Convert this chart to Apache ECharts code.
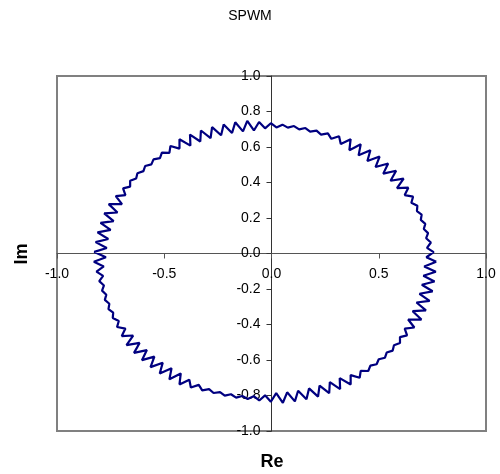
<!DOCTYPE html>
<html>
<head>
<meta charset="utf-8">
<style>
html,body{margin:0;padding:0;background:#fff;}
#chart{width:500px;height:474px;}
</style>
<script src="https://cdn.jsdelivr.net/npm/echarts@6/dist/echarts.min.js"></script>
</head>
<body>
<div id="chart"></div>
<script>
var reValues = [
 0.768, 0.722, 0.756, 0.725, 0.743, 0.721, 0.730, 0.710, 0.717, 0.696,
 0.700, 0.678, 0.680, 0.652, 0.660, 0.621, 0.638, 0.585, 0.616, 0.555,
 0.581, 0.521, 0.544, 0.485, 0.504, 0.447, 0.461, 0.406, 0.416, 0.363,
 0.369, 0.323, 0.315, 0.279, 0.263, 0.231, 0.210, 0.180, 0.158, 0.129,
 0.105, 0.076, 0.051, 0.023, -0.003, -0.030, -0.058, -0.082, -0.113, -0.133,
 -0.169, -0.184, -0.223, -0.235, -0.277, -0.284, -0.329, -0.332, -0.380, -0.378,
 -0.429, -0.429, -0.471, -0.476, -0.511, -0.520, -0.550, -0.560, -0.589, -0.597,
 -0.625, -0.631, -0.659, -0.659, -0.692, -0.681, -0.726, -0.697, -0.759, -0.718,
 -0.780, -0.736, -0.797, -0.750, -0.811, -0.761, -0.820, -0.768, -0.826, -0.772,
 -0.828, -0.782, -0.816, -0.785, -0.803, -0.781, -0.790, -0.770, -0.777, -0.756,
 -0.760, -0.738, -0.740, -0.712, -0.720, -0.681, -0.698, -0.645, -0.676, -0.615,
 -0.641, -0.581, -0.604, -0.546, -0.564, -0.507, -0.521, -0.466, -0.476, -0.423,
 -0.429, -0.383, -0.376, -0.339, -0.323, -0.291, -0.270, -0.240, -0.218, -0.189,
 -0.165, -0.136, -0.111, -0.083, -0.057, -0.030, -0.003, 0.022, 0.053, 0.073,
 0.109, 0.124, 0.163, 0.175, 0.217, 0.224, 0.269, 0.272, 0.320, 0.318,
 0.369, 0.369, 0.411, 0.416, 0.451, 0.461, 0.490, 0.500, 0.529, 0.537,
 0.565, 0.571, 0.599, 0.599, 0.632, 0.621, 0.666, 0.637, 0.699, 0.658,
 0.720, 0.676, 0.737, 0.690, 0.751, 0.701, 0.760, 0.708, 0.766, 0.712,
 0.768
];
// Imaginary part (Im) of the trajectory
var imValues = [
 -0.047, -0.021, 0.008, 0.032, 0.062, 0.086, 0.115, 0.138, 0.167, 0.189,
 0.219, 0.239, 0.269, 0.286, 0.320, 0.329, 0.371, 0.368, 0.422, 0.410,
 0.466, 0.450, 0.507, 0.487, 0.546, 0.521, 0.582, 0.553, 0.615, 0.582,
 0.644, 0.617, 0.661, 0.646, 0.677, 0.670, 0.692, 0.687, 0.707, 0.699,
 0.718, 0.709, 0.726, 0.710, 0.734, 0.705, 0.741, 0.693, 0.747, 0.688,
 0.739, 0.679, 0.727, 0.666, 0.712, 0.650, 0.693, 0.631, 0.670, 0.608,
 0.644, 0.591, 0.606, 0.567, 0.568, 0.537, 0.530, 0.502, 0.493, 0.464,
 0.452, 0.423, 0.410, 0.377, 0.367, 0.329, 0.323, 0.278, 0.278, 0.231,
 0.226, 0.182, 0.173, 0.133, 0.119, 0.082, 0.064, 0.031, 0.009, -0.021,
 -0.047, -0.073, -0.102, -0.126, -0.156, -0.180, -0.209, -0.232, -0.261, -0.283,
 -0.313, -0.333, -0.363, -0.380, -0.414, -0.423, -0.465, -0.462, -0.516, -0.504,
 -0.560, -0.544, -0.601, -0.581, -0.640, -0.615, -0.676, -0.647, -0.709, -0.676,
 -0.738, -0.711, -0.755, -0.740, -0.771, -0.764, -0.786, -0.781, -0.801, -0.793,
 -0.812, -0.803, -0.820, -0.804, -0.828, -0.799, -0.835, -0.787, -0.841, -0.782,
 -0.833, -0.773, -0.821, -0.760, -0.806, -0.744, -0.787, -0.725, -0.764, -0.702,
 -0.738, -0.685, -0.700, -0.661, -0.662, -0.632, -0.624, -0.596, -0.587, -0.558,
 -0.547, -0.517, -0.504, -0.471, -0.461, -0.423, -0.417, -0.372, -0.372, -0.325,
 -0.320, -0.276, -0.267, -0.227, -0.213, -0.176, -0.158, -0.125, -0.103, -0.073,
 -0.047
];
var xTicks = { min: -1, max: 1, interval: 0.5 };
var yTicks = { min: -1, max: 1, interval: 0.2 };
var chartTitle = 'SPWM';
var xName = 'Re';
var yName = 'Im';

var points = reValues.map(function (x, i) { return [x, imValues[i]]; });
var FONT = 'Liberation Sans, Arial, sans-serif';
function fmt(v) { return Math.abs(v) < 1e-9 ? '0.0' : v.toFixed(1); }

var GRID = { left: 57, right: 14, top: 76, bottom: 43 };
var W = 500, H = 474;
var plotW = W - GRID.left - GRID.right;
var plotH = H - GRID.top - GRID.bottom;
// the axes cross at the origin (0,0), i.e. the middle of the plot area
var xAxisOffset = -plotH * (0 - yTicks.min) / (yTicks.max - yTicks.min);
var yAxisOffset = -plotW * (0 - xTicks.min) / (xTicks.max - xTicks.min);

var chart = echarts.init(document.getElementById('chart'), null, { renderer: 'canvas' });
chart.setOption({
  animation: false,
  backgroundColor: '#fff',
  grid: {
    left: GRID.left, right: GRID.right, top: GRID.top, bottom: GRID.bottom,
    show: true, borderColor: '#808080', borderWidth: 2, backgroundColor: '#fff'
  },
  xAxis: {
    type: 'value', min: xTicks.min, max: xTicks.max, interval: xTicks.interval,
    position: 'bottom', offset: xAxisOffset,
    axisLine: { onZero: false, lineStyle: { color: '#555', width: 1 } },
    axisTick: { show: true, length: 5, lineStyle: { color: '#555' } },
    axisLabel: { formatter: fmt, color: '#000', fontSize: 14, fontFamily: FONT, margin: 14 },
    splitLine: { show: false }
  },
  yAxis: {
    type: 'value', min: yTicks.min, max: yTicks.max, interval: yTicks.interval,
    position: 'left', offset: yAxisOffset,
    axisLine: { onZero: false, lineStyle: { color: '#333', width: 1 } },
    axisTick: { show: true, length: 5, lineStyle: { color: '#333' } },
    axisLabel: { formatter: fmt, color: '#000', fontSize: 14, fontFamily: FONT, margin: 11 },
    splitLine: { show: false }
  },
  graphic: [
    { type: 'text', x: 250, y: 16, style: { text: chartTitle, font: '14px ' + FONT, fill: '#000', textAlign: 'center', textVerticalAlign: 'middle' } },
    { type: 'text', x: 272, y: 462, style: { text: xName, font: 'bold 18px ' + FONT, fill: '#000', textAlign: 'center', textVerticalAlign: 'middle' } },
    { type: 'text', x: 22, y: 254, rotation: Math.PI / 2, style: { text: yName, font: 'bold 18px ' + FONT, fill: '#000', textAlign: 'center', textVerticalAlign: 'middle' } }
  ],
  series: [{
    type: 'line',
    data: points,
    showSymbol: false,
    smooth: false,
    lineStyle: { color: '#000080', width: 2.2 },
    z: 1
  }]
});
</script>
</body>
</html>
